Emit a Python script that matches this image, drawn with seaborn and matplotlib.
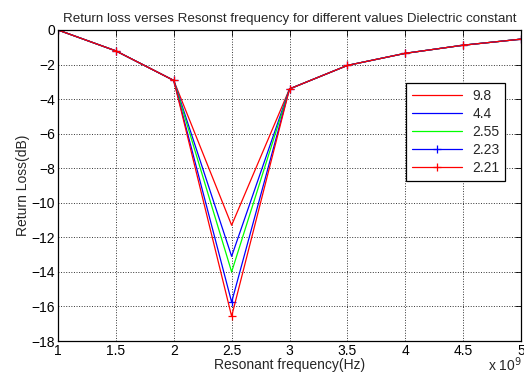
import matplotlib
matplotlib.use("Agg")
import matplotlib.pyplot as plt
import seaborn as sns
import numpy as np
import pandas as pd
from matplotlib.ticker import FuncFormatter, MultipleLocator

freq_ghz = [1.0, 1.5, 2.0, 2.5, 3.0, 3.5, 4.0, 4.5, 5.0]
labels = ["9.8", "4.4", "2.55", "2.23", "2.21"]
rl_98 = [0, -1.21, -2.92, -11.3, -3.41, -2.05, -1.35, -0.88, -0.53]
rl_44 = [0, -1.21, -2.92, -13.1, -3.41, -2.05, -1.35, -0.88, -0.53]
rl_255 = [0, -1.21, -2.92, -14.0, -3.41, -2.05, -1.35, -0.88, -0.53]
rl_223 = [0, -1.21, -2.92, -15.75, -3.41, -2.05, -1.35, -0.88, -0.53]
rl_221 = [0, -1.21, -2.92, -16.57, -3.41, -2.05, -1.35, -0.88, -0.53]
series = [rl_98, rl_44, rl_255, rl_223, rl_221]
colors = ["#ff0000", "#0000ff", "#00ff00", "#0000ff", "#ff0000"]
markers = [None, None, None, "+", "+"]

sns.set_style("white")
plt.rcParams['font.family'] = ['Liberation Sans', 'DejaVu Sans']

fig = plt.figure(figsize=(5.24, 3.74), dpi=100)
ax = fig.add_axes([0.1107, 0.0882, 0.8836, 0.8316])

freq_hz = [f * 1e9 for f in freq_ghz]
for lab, vals, c, m in zip(labels, series, colors, markers):
    df = pd.DataFrame({"f": freq_hz, "rl": vals})
    sns.lineplot(data=df, x="f", y="rl", ax=ax, color=c, marker=m,
                 markersize=6, markeredgewidth=0.9, linewidth=0.9,
                 label=lab, markeredgecolor=c)

ax.set_xlim(1e9, 5e9)
ax.set_ylim(-18, 0)
ax.xaxis.set_major_locator(MultipleLocator(0.5e9))
ax.yaxis.set_major_locator(MultipleLocator(2))
ax.xaxis.set_major_formatter(FuncFormatter(lambda v, p: f"{v/1e9:g}"))
ax.tick_params(direction="in", top=True, right=True, length=4, width=0.6,
               labelsize=10, colors="black", pad=2)
ax.grid(True, linestyle=":", color="#333333", linewidth=0.7)
for s in ax.spines.values():
    s.set_color("black")
    s.set_linewidth(0.9)

ax.set_title("Return loss verses Resonst frequency for different values Dielectric constant",
             fontsize=9.6, pad=6)
ax.set_xlabel("Resonant frequency(Hz)", fontsize=10, labelpad=0.5)
ax.set_ylabel("Return Loss(dB)", fontsize=10, labelpad=1)
fig.text(0.963, 0.0, r"x 10$^9$", fontsize=10, ha="center", va="bottom")

leg = ax.legend(loc="upper left", bbox_to_anchor=(0.7516, 0.8296), frameon=True,
                fontsize=10, handlelength=3.6, borderpad=0.4, labelspacing=0.3,
                handletextpad=0.8, borderaxespad=0,
                fancybox=False, framealpha=1)
leg.get_frame().set_edgecolor("black")
leg.get_frame().set_linewidth(0.9)

fig.savefig("out.png", dpi=100)
